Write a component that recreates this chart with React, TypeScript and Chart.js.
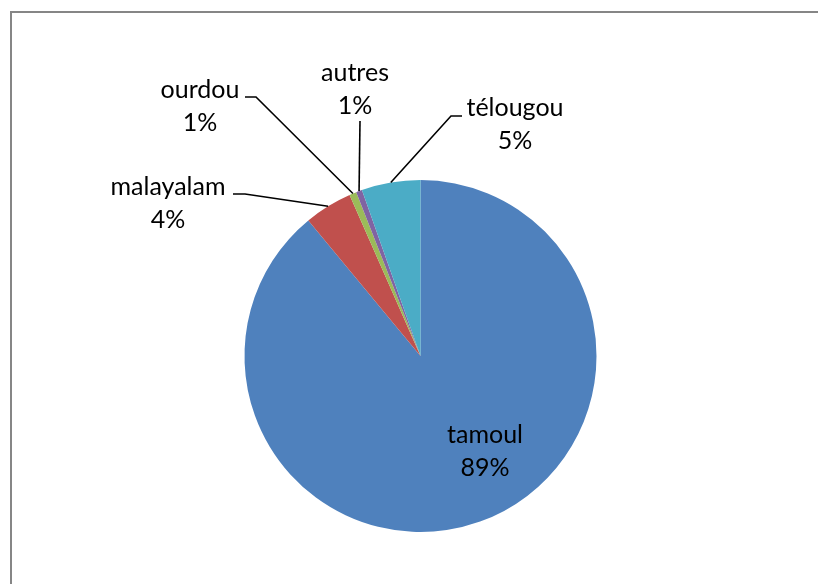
import React, { useEffect, useRef } from "react";
import { Chart, registerables } from "chart.js";

Chart.register(...registerables);

const categories = ["tamoul", "malayalam", "ourdou", "autres", "télougou"];
const values = [89.0, 4.4, 0.65, 0.55, 5.4];
const colors = ["#4F81BD", "#C0504D", "#9BBB59", "#8064A2", "#4BACC6"];

// label layout: text centre (x, y of first line), leader elbow and end (null = inside label)
const labelLayout = [
  { x: 485, y: 435, leader: null as null | number[][] },
  { x: 168, y: 187, leader: [[245, 194], [233, 194]] },
  { x: 200, y: 90, leader: [[256, 97], [245, 97]] },
  { x: 355, y: 73, leader: [[360, 121]] },
  { x: 515, y: 108, leader: [[451, 116], [462, 116]] },
];

const FONT = '25px Lato, "Open Sans", sans-serif';
const LINE_GAP = 33;

const labelPlugin = {
  id: "pieLabels",
  beforeDraw(chart: any) {
    const ctx = chart.ctx;
    ctx.save();
    ctx.strokeStyle = "#868686";
    ctx.lineWidth = 2;
    ctx.beginPath();
    ctx.moveTo(11, 584);
    ctx.lineTo(11, 12);
    ctx.lineTo(818, 12);
    ctx.stroke();
    ctx.restore();
  },
  afterDatasetsDraw(chart: any) {
    const ctx = chart.ctx;
    const meta = chart.getDatasetMeta(0);
    const data = chart.data.datasets[0].data as number[];
    const total = data.reduce((a, b) => a + b, 0);
    ctx.save();
    meta.data.forEach((arc: any, i: number) => {
      const lay = labelLayout[i];
      const { x, y, startAngle, endAngle, outerRadius } = arc.getProps(
        ["x", "y", "startAngle", "endAngle", "outerRadius"],
        true
      );
      if (lay.leader) {
        const mid = (startAngle + endAngle) / 2;
        const ax = x + Math.cos(mid) * outerRadius;
        const ay = y + Math.sin(mid) * outerRadius;
        ctx.strokeStyle = "#000";
        ctx.lineWidth = 1.6;
        ctx.beginPath();
        ctx.moveTo(ax, ay);
        lay.leader.forEach((p) => ctx.lineTo(p[0], p[1]));
        ctx.stroke();
      }
      const pct = Math.round((data[i] / total) * 100) + "%";
      ctx.fillStyle = "#000";
      ctx.font = FONT;
      ctx.textAlign = "center";
      ctx.textBaseline = "middle";
      ctx.fillText(chart.data.labels[i], lay.x, lay.y);
      ctx.fillText(pct, lay.x, lay.y + LINE_GAP);
    });
    ctx.restore();
  },
};

export default function App() {
  const ref = useRef<HTMLCanvasElement>(null);
  useEffect(() => {
    if (!ref.current) return;
    const chart = new Chart(ref.current, {
      type: "pie",
      data: {
        labels: categories,
        datasets: [
          {
            data: values,
            backgroundColor: colors,
            borderWidth: 0,
          },
        ],
      },
      options: {
        animation: false,
        responsive: false,
        events: [],
        layout: { padding: { left: 244.5, right: 221.5, top: 180, bottom: 52 } },
        plugins: {
          legend: { display: false },
          tooltip: { enabled: false },
          title: { display: false },
        },
      },
      plugins: [labelPlugin],
    });
    return () => chart.destroy();
  }, []);
  return (
    <div style={{ position: "fixed", left: 0, top: 0, width: 818, height: 584, background: "#fff" }}>
      <canvas ref={ref} width={818} height={584} style={{ width: 818, height: 584, display: "block" }} />
    </div>
  );
}
